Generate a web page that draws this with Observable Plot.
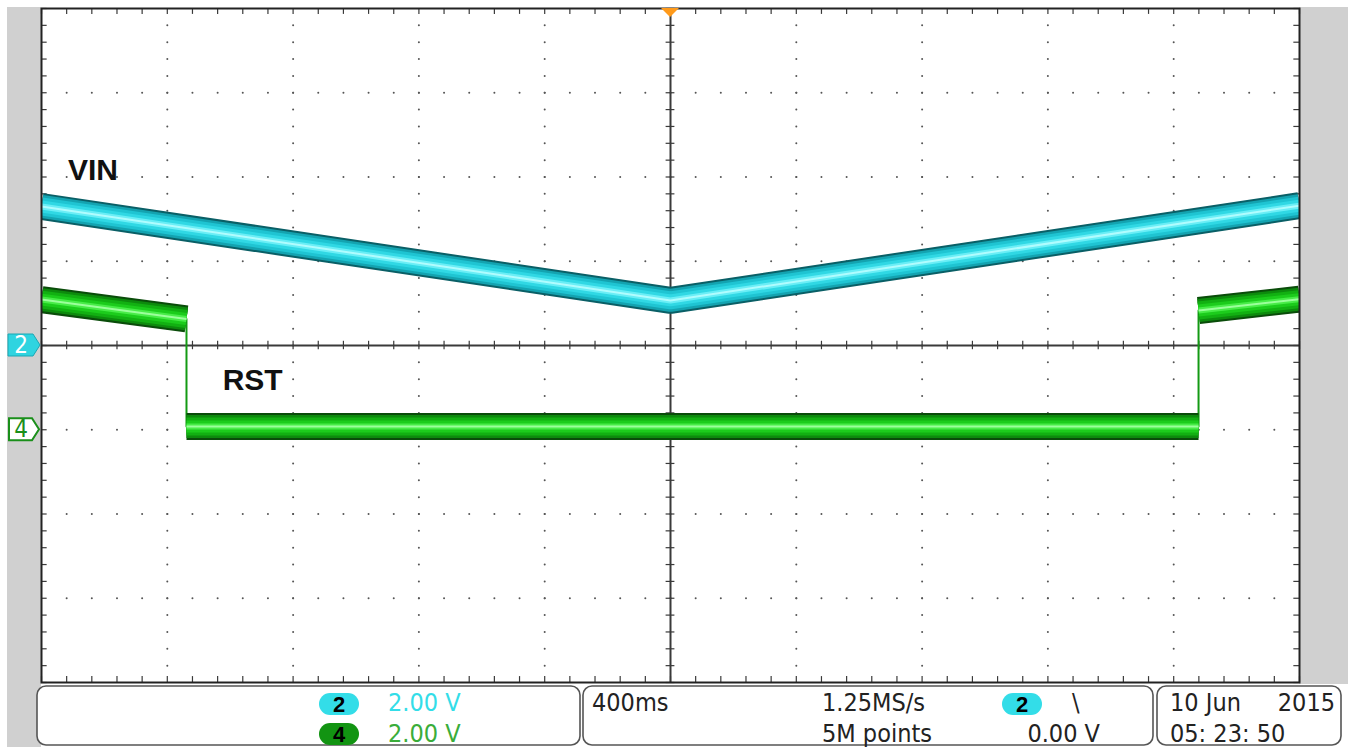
<!DOCTYPE html>
<html>
<head>
<meta charset="utf-8">
<script src="https://cdn.jsdelivr.net/npm/d3@7"></script>
<script src="https://cdn.jsdelivr.net/npm/@observablehq/plot@0.6"></script>
<style>
  body { margin: 0; background: #ffffff; }
  svg { display: block; }
</style>
</head>
<body>
<div id="chart"></div>
<script>
// ---- Scope settings ----
const secPerDiv = 0.4;          // 400ms / div
const ch2VoltsPerDiv = 2.0;     // channel 2: 2.00 V / div
const ch4VoltsPerDiv = 2.0;     // channel 4: 2.00 V / div
const ch2OffsetDiv = 0;         // ch2 ground marker at centre line
const ch4OffsetDiv = -1;        // ch4 ground marker one division below centre

// ---- VIN (channel 2), time in s, volts ----
const vinTime  = [-2.0, 0.0, 2.0];
const vinVolts = [3.30, 1.07, 3.32];

// ---- RST (channel 4), time in s, volts ----
const rstTime    = [-2.0, -1.539, -1.539, 1.679, 1.679, 2.0];
const rstVolts   = [3.09, 2.63, 0.08, 0.08, 2.83, 3.10];
const rstSegment = ["a", "a", "b", "b", "c", "c"];

// ---- Texts ----
const traceLabels = ["VIN", "RST"];
const ch2Info = ["2", "2.00 V"];
const ch4Info = ["4", "2.00 V"];
const timebaseInfo = ["400ms", "1.25MS/s", "5M points"];
const triggerInfo = ["2", "\\", "0.00 V"];
const dateInfo = ["10 Jun", "2015", "05: 23: 50"];

// ---- Build tables ----
const vin = vinTime.map((t, i) => ({x: t / secPerDiv, y: vinVolts[i] / ch2VoltsPerDiv + ch2OffsetDiv}));
const rst = rstTime.map((t, i) => ({x: t / secPerDiv, y: rstVolts[i] / ch4VoltsPerDiv + ch4OffsetDiv, seg: rstSegment[i]}));

// graticule helpers (10 x 8 divisions, 5 minor per division)
const minorX = d3.range(-25, 26).map(k => k / 5);
const minorY = d3.range(-20, 21).map(k => k / 5);
const gridDots = [];
for (let gy = -3; gy <= 3; gy++) if (gy !== 0) for (const mx of minorX) if (Math.abs(mx) < 5) gridDots.push({x: mx, y: gy});
for (let gx = -4; gx <= 4; gx++) if (gx !== 0) for (const my of minorY) if (Math.abs(my) < 4) gridDots.push({x: gx, y: my});

const cyanLayers  = [["#0a5f66", 27], ["#14a3b0", 23], ["#1fc4d2", 18], ["#30d8e4", 12], ["#6aeef6", 6], ["#b0fcfe", 2]];
const greenLayers = [["#0a4c0a", 27], ["#0d8a0d", 23], ["#12b012", 18], ["#1ccc1c", 12], ["#48ec48", 6], ["#9cff9c", 2]];

const plot = Plot.plot({
  width: 1348,
  height: 747,
  marginLeft: 41,
  marginRight: 49,
  marginTop: 8,
  marginBottom: 65,
  x: {domain: [-5, 5], axis: null},
  y: {domain: [-4, 4], axis: null},
  style: {background: "transparent"},
  marks: [
    Plot.dot(gridDots, {x: "x", y: "y", r: 1, fill: "#555", stroke: null}),
    Plot.ruleX([0], {stroke: "#3a3a3a", strokeWidth: 2}),
    Plot.ruleY([0], {stroke: "#3a3a3a", strokeWidth: 2}),
    Plot.ruleY(minorY, {y: d => d, x1: -0.035, x2: 0.035, stroke: "#3a3a3a", strokeWidth: 1.2}),
    Plot.ruleX(minorX, {x: d => d, y1: -0.05, y2: 0.05, stroke: "#3a3a3a", strokeWidth: 1.2}),
    // border ticks
    Plot.ruleX(minorX, {x: d => d, y1: 4, y2: 3.93, stroke: "#3a3a3a", strokeWidth: 1.2}),
    Plot.ruleX(minorX, {x: d => d, y1: -4, y2: -3.93, stroke: "#3a3a3a", strokeWidth: 1.2}),
    Plot.ruleY(minorY, {y: d => d, x1: -5, x2: -4.955, stroke: "#3a3a3a", strokeWidth: 1.2}),
    Plot.ruleY(minorY, {y: d => d, x1: 5, x2: 4.955, stroke: "#3a3a3a", strokeWidth: 1.2}),
    // VIN trace
    ...cyanLayers.map(([c, w]) => Plot.line(vin, {x: "x", y: "y", stroke: c, strokeWidth: w,
      strokeLinejoin: "miter", strokeLinecap: "butt", clip: true})),
    // RST trace
    Plot.line(rst, {x: "x", y: "y", stroke: "#149a14", strokeWidth: 2, strokeLinecap: "butt", clip: true}),
    ...greenLayers.map(([c, w]) => Plot.line(rst, {x: "x", y: "y", z: "seg", stroke: c, strokeWidth: w,
      strokeLinecap: "butt", clip: true})),
    // labels
    Plot.text([traceLabels[0]], {x: -4.79, y: 1.96, text: d => d, textAnchor: "start", lineAnchor: "bottom",
      fontSize: 30, fontWeight: "bold", fontFamily: "Liberation Sans, Arial, sans-serif", fill: "#111"}),
    Plot.text([traceLabels[1]], {x: -3.56, y: -0.53, text: d => d, textAnchor: "start", lineAnchor: "bottom",
      fontSize: 30, fontWeight: "bold", fontFamily: "Liberation Sans, Arial, sans-serif", fill: "#111"}),
    Plot.frame({stroke: "#222", strokeWidth: 2})
  ]
});

document.getElementById("chart").appendChild(plot);

// ---- decorations (grey bezel, markers, info bar) ----
const svg = d3.select(plot);
const xs = plot.scale("x"), ys = plot.scale("y");
const X = v => xs.apply(v), Y = v => ys.apply(v);
const pLeft = X(-5), pRight = X(5), pTop = Y(4), pBottom = Y(-4);

const bezel = svg.insert("g", ":first-child");
bezel.append("rect").attr("x", 7).attr("y", 7).attr("width", pLeft - 7).attr("height", 747 - 7).attr("fill", "#d0d0d0");
bezel.append("rect").attr("x", pRight).attr("y", 7).attr("width", 1348 - pRight).attr("height", pBottom + 2 - 7).attr("fill", "#d0d0d0");
bezel.append("rect").attr("x", pLeft).attr("y", pTop).attr("width", pRight - pLeft).attr("height", pBottom - pTop).attr("fill", "#ffffff");

const deco = svg.append("g");
const numFont = "Liberation Sans Narrow, DejaVu Sans Condensed, Arial Narrow, sans-serif";

// channel 2 marker
const y2 = Y(ch2OffsetDiv);
deco.append("path")
  .attr("d", `M8,${y2 - 11} L33,${y2 - 11} L40,${y2} L33,${y2 + 11} L8,${y2 + 11} Z`)
  .attr("fill", "#2fd4e0").attr("stroke", "#1aa8b4").attr("stroke-width", 1);
deco.append("text").attr("x", 21).attr("y", y2 + 8).attr("text-anchor", "middle")
  .attr("font-family", numFont).attr("font-size", 24).attr("fill", "#ffffff").text(ch2Info[0]);

// channel 4 marker
const y4 = Y(ch4OffsetDiv);
deco.append("path")
  .attr("d", `M9,${y4 - 11} L32,${y4 - 11} L39,${y4} L32,${y4 + 11} L9,${y4 + 11} Z`)
  .attr("fill", "#ffffff").attr("stroke", "#1a8f1a").attr("stroke-width", 2);
deco.append("text").attr("x", 21).attr("y", y4 + 8).attr("text-anchor", "middle")
  .attr("font-family", numFont).attr("font-size", 24).attr("fill", "#1a8f1a").text(ch4Info[0]);

// trigger position marker
const xc = X(0);
deco.append("path").attr("d", `M${xc - 9},${pTop} L${xc + 9},${pTop} L${xc},${pTop + 9} Z`).attr("fill", "#ff9a1a");

// info bar boxes
const boxes = [[37, 543], [583, 570], [1157, 184]];
for (const [bx, bw] of boxes) {
  deco.append("rect").attr("x", bx).attr("y", 686).attr("width", bw).attr("height", 59)
    .attr("rx", 9).attr("fill", "#ffffff").attr("stroke", "#555").attr("stroke-width", 1.6);
}
const r1 = 711, r2 = 742;
function txt(x, y, s, opts = {}) {
  return deco.append("text").attr("x", x).attr("y", y)
    .attr("font-family", numFont).attr("font-size", opts.size || 25)
    .attr("text-anchor", opts.anchor || "start")
    .attr("fill", opts.fill || "#222").text(s);
}
function pill(cx, cy, fill, label) {
  deco.append("rect").attr("x", cx - 20).attr("y", cy - 11).attr("width", 40).attr("height", 22)
    .attr("rx", 11).attr("fill", fill);
  deco.append("text").attr("x", cx).attr("y", cy + 8).attr("text-anchor", "middle")
    .attr("font-family", "Liberation Sans, Arial, sans-serif").attr("font-weight", "bold")
    .attr("font-size", 22).attr("fill", "#000").text(label);
}
pill(339, 704, "#33dde8", ch2Info[0]);
txt(388, r1, ch2Info[1], {fill: "#33dde8"});
pill(339, 734, "#129412", ch4Info[0]);
txt(388, r2, ch4Info[1], {fill: "#3aad3a"});

txt(592, r1, timebaseInfo[0]);
txt(822, r1, timebaseInfo[1]);
txt(822, r2, timebaseInfo[2]);
pill(1022, 704, "#33dde8", triggerInfo[0]);
txt(1072, r1, triggerInfo[1]);
txt(1100, r2, triggerInfo[2], {anchor: "end"});

txt(1170, r1, dateInfo[0]);
txt(1335, r1, dateInfo[1], {anchor: "end"});
txt(1170, r2, dateInfo[2]);
</script>
</body>
</html>
